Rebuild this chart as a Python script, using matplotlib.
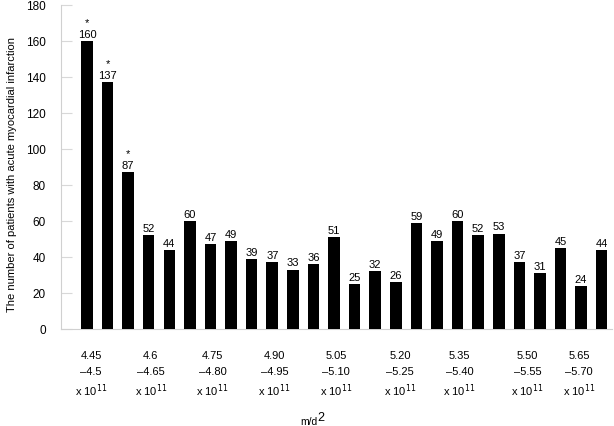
import matplotlib
matplotlib.use("Agg")
import matplotlib.pyplot as plt
import matplotlib.transforms as mtransforms

plt.rcParams['font.family'] = ['Liberation Sans', 'DejaVu Sans']

values = [160, 137, 87, 52, 44, 60, 47, 49, 39, 37, 33, 36, 51, 25, 32, 26,
          59, 49, 60, 52, 53, 37, 31, 45, 24, 44]
starred = [0, 1, 2]
group_lo = ["4.45", "4.6", "4.75", "4.90", "5.05", "5.20", "5.35", "5.50", "5.65"]
group_hi = ["\u20134.5", "\u20134.65", "\u20134.80", "\u20134.95", "\u20135.10",
            "\u20135.25", "\u20135.40", "\u20135.55", "\u20135.70"]
group_pos = [0.2, 3.1, 6.1, 9.1, 12.1, 15.2, 18.1, 21.4, 23.9]
y_ticks = [0, 20, 40, 60, 80, 100, 120, 140, 160, 180]

fig = plt.figure(figsize=(6.14, 4.27), dpi=100)
ax = fig.add_axes([61/614, 1-330/427, (612-61)/614, (330-6)/427])

x = list(range(len(values)))
ax.bar(x, values, width=0.56, color='black', zorder=3)

for i, v in enumerate(values):
    ax.text(i, v + 1.2, str(v), ha='center', va='bottom', fontsize=8)
    if i in starred:
        ax.text(i, v + 8.0, '*', ha='center', va='bottom', fontsize=8)

ax.set_ylim(0, 180)
ax.set_xlim(-1.26, 25.5)
ax.set_yticks(y_ticks)
ax.tick_params(axis='y', direction='in', length=8, color='#d8d8d8', labelsize=8.5, pad=11)
ax.set_xticks([])
for s in ['top', 'right']:
    ax.spines[s].set_visible(False)
ax.spines['left'].set_color('#d0d0d0')
ax.spines['bottom'].set_color('#d0d0d0')

trans = mtransforms.blended_transform_factory(ax.transData, fig.transFigure)
for p, lo, hi in zip(group_pos, group_lo, group_hi):
    ax.text(p, 1-356/427, lo, transform=trans, ha='center', va='center', fontsize=8)
    ax.text(p, 1-372/427, hi, transform=trans, ha='center', va='center', fontsize=8)
    ax.text(p, 1-391/427, 'x 10$^{11}$', transform=trans, ha='center', va='center', fontsize=8)

fig.text(309/614, 1-422/427, 'm/d', ha='center', va='center', fontsize=7.5)
fig.text(321/614, 1-418/427, '2', ha='center', va='center', fontsize=9)
fig.text(12/614, 1-175/427, 'The number of patients with acute myocardial infarction',
         rotation=90, ha='center', va='center', fontsize=8)

fig.savefig('out.png', dpi=100)
